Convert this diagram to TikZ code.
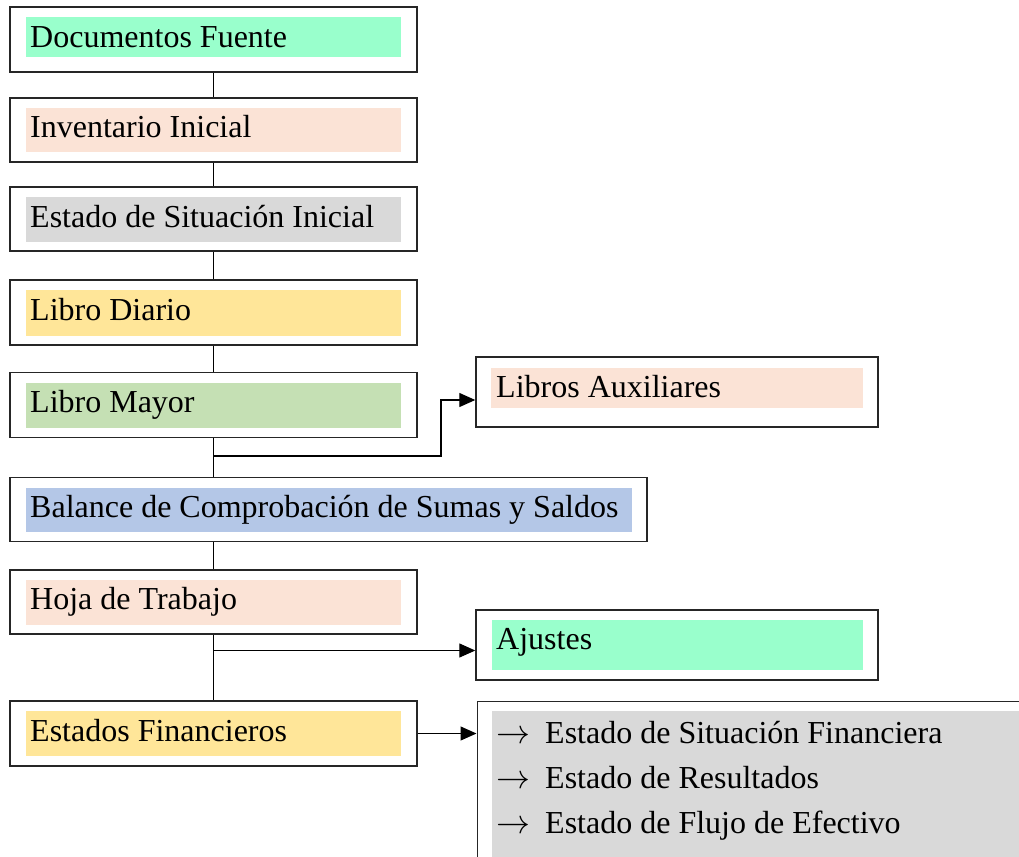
\RequirePackage{fix-cm}
\documentclass[tikz,border=0pt]{standalone}
\usepackage{fontspec}
\setmainfont{Liberation Serif}
\usetikzlibrary{arrows.meta}
\definecolor{cmint}{HTML}{99FFCC}
\definecolor{cpeach}{HTML}{FBE3D6}
\definecolor{cgray}{HTML}{D9D9D9}
\definecolor{cyellow}{HTML}{FFE699}
\definecolor{cgreen}{HTML}{C5E0B4}
\definecolor{cblue}{HTML}{B4C7E7}
\begin{document}
\begin{tikzpicture}[x=1pt,y=-1pt,
  box/.style={draw=black!85, line width=1.4pt, minimum width=407pt, minimum height=65pt, inner sep=0pt},
  conn/.style={draw=black, line width=1.2pt},
  arr/.style={conn, -{Triangle[length=16pt,width=14pt]}},
  lbl/.style={anchor=base west, inner sep=0pt, font=\fontsize{32}{38}\selectfont}]
\useasboundingbox (0,0) rectangle (1019,856);
\clip (0,0) rectangle (1019,856);

% fills
\fill[cmint]   (26,17)    rectangle (401,57);
\fill[cpeach]  (26,108)   rectangle (401,152);
\fill[cgray]   (26,197)   rectangle (401,241.5);
\fill[cyellow] (26,290)   rectangle (401,335.5);
\fill[cgreen]  (26,383)   rectangle (401,427.5);
\fill[cblue]   (26,487.5) rectangle (632,531.5);
\fill[cpeach]  (26,580)   rectangle (401,624.5);
\fill[cyellow] (26,711)   rectangle (401,756);
\fill[cpeach]  (491,368)  rectangle (862.5,408);
\fill[cmint]   (492,620)  rectangle (862.5,670);
\fill[cgray]   (492,711)  rectangle (1040,880);

% main column
\node[box] (b1) at (213.5,39.5) {};
\node[box, minimum height=64pt] (b2) at (213.5,130) {};
\node[box, minimum height=64pt] (b3) at (213.5,219) {};
\node[box] (b4) at (213.5,312.5) {};
\node[box, minimum height=64.5pt] (b5) at (213.5,405) {};
\node[box, minimum width=637pt, minimum height=64pt] (b6) at (328.5,509.5) {};
\node[box, minimum height=64pt] (b7) at (213.5,602) {};
\node[box] (b8) at (213.5,733.5) {};

% side boxes
\node[box, minimum width=402pt, minimum height=70pt] (aux) at (677,392) {};
\node[box, minimum width=402pt, minimum height=70pt] (aj) at (677,645) {};
\node[box, anchor=north west, minimum width=600pt, minimum height=200pt] (fin) at (476.5,701) {};

% labels
\node[lbl] (t1) at (30,48) {Documentos Fuente};
\node[lbl] (t2) at (30,138) {Inventario Inicial};
\node[lbl] (t3) at (30,227) {Estado de Situación Inicial};
\node[lbl] (t4) at (30,320) {Libro Diario};
\node[lbl] (t5) at (30,412) {Libro Mayor};
\node[lbl] (t6) at (30,517.5) {Balance de Comprobación de Sumas y Saldos};
\node[lbl] (t7) at (30,609.5) {Hoja de Trabajo};
\node[lbl] (t8) at (30,741) {Estados Financieros};
\node[lbl] (taux) at (496,397.5) {Libros Auxiliares};
\node[lbl] (taj) at (496,649.5) {Ajustes};
\node[lbl] (fa1) at (496,743) {\scalebox{1.06}{$\rightarrow$}};
\node[lbl] (fa2) at (496,788) {\scalebox{1.06}{$\rightarrow$}};
\node[lbl] (fa3) at (496,833) {\scalebox{1.06}{$\rightarrow$}};
\node[lbl] (f1) at (545,743) {Estado de Situación Financiera};
\node[lbl] (f2) at (545,788) {Estado de Resultados};
\node[lbl] (f3) at (545,833) {Estado de Flujo de Efectivo};

% connectors
\draw[conn] (b1.south) -- (b2.north);
\draw[conn] (b2.south) -- (b3.north);
\draw[conn] (b3.south) -- (b4.north);
\draw[conn] (b4.south) -- (b5.north);
\draw[conn] (b5.south) -- (b5.south |- b6.north);
\draw[conn] (b7.north |- b6.south) -- (b7.north);
\draw[conn] (b7.south) -- (b8.north);
\coordinate (j1) at (213.5,456);
\coordinate (k1) at (441,400);
\draw[arr] (j1) -| (k1) -- (k1 -| aux.west);
\coordinate (j2) at (213.5,650.5);
\draw[arr] (j2) -- (j2 -| aj.west);
\draw[arr] (b8.east) -- (b8.east -| fin.west);
\end{tikzpicture}
\end{document}
